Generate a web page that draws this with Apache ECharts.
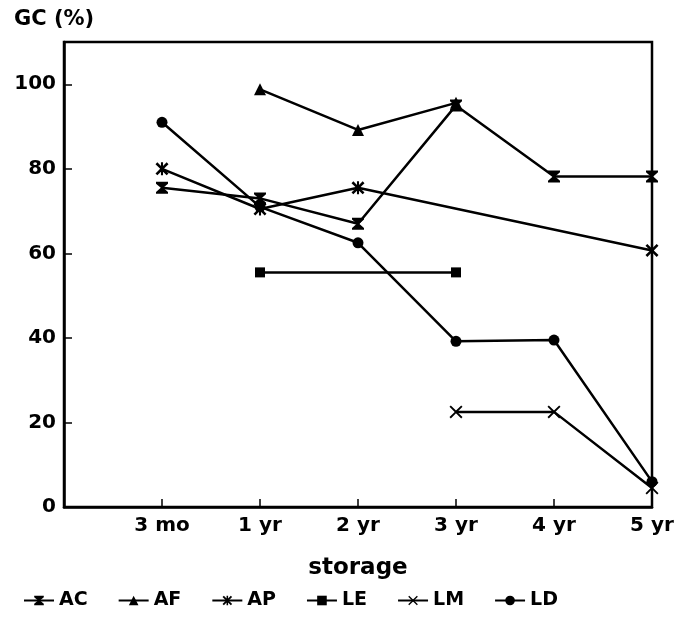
<!DOCTYPE html>
<html>
<head>
<meta charset="utf-8">
<script src="https://cdn.jsdelivr.net/npm/echarts@6/dist/echarts.min.js"></script>
<style>html,body{margin:0;padding:0;background:#fff;}#c{width:682px;height:619px;}</style>
</head>
<body>
<div id="c"></div>
<script>
const categories = ['', '3 mo', '1 yr', '2 yr', '3 yr', '4 yr', '5 yr'];
const AC = [null, 75.5, 73, 67, 95, 78.2, 78.2];
const AF = [null, null, 98.8, 89.2, 95.6, null, null];
const AP = [null, 80, 70.5, 75.5, null, null, 60.7];
const LE = [null, null, 55.5, null, 55.5, null, null];
const LM = [null, null, null, null, 22.5, 22.5, 4.5];
const LD = [null, 91, 71, 62.5, 39.2, 39.5, 6];
const yTicks = [0, 20, 40, 60, 80, 100];

const FONT = 'DejaVu Sans';
const sym = {
  AC: 'path://M0,0 L10,0 L10,1.5 L6,5 L10,8.5 L10,10 L0,10 L0,8.5 L4,5 L0,1.5 Z',
  AF: 'triangle',
  AP: 'path://M0,1.4 L1.4,0 L5,3.6 L8.6,0 L10,1.4 L6.4,5 L10,8.6 L8.6,10 L5,6.4 L1.4,10 L0,8.6 L3.6,5 Z M4.2,0 L5.8,0 L5.8,10 L4.2,10 Z',
  LE: 'rect',
  LM: 'path://M0,1 L1,0 L5,4 L9,0 L10,1 L6,5 L10,9 L9,10 L5,6 L1,10 L0,9 L4,5 Z',
  LD: 'circle'
};
const symSize = {AC: 12, AF: 12, AP: 13, LE: 10, LM: 13, LD: 11};

function mk(name, data) {
  return {
    name: name, type: 'line', data: data, connectNulls: true,
    symbol: sym[name], symbolSize: symSize[name], showSymbol: true,
    lineStyle: {color: '#000', width: 2.5},
    itemStyle: {color: '#000', borderColor: '#000', borderWidth: 0},
    animation: false
  };
}

const chart = echarts.init(document.getElementById('c'));
chart.setOption({
  animation: false,
  backgroundColor: '#fff',
  title: {
    text: 'GC (%)', left: 9, top: 4,
    textStyle: {fontFamily: FONT, fontWeight: 'bold', fontSize: 21, color: '#000'}
  },
  grid: {left: 64, right: 30, top: 42, bottom: 112, show: true, borderColor: '#000', borderWidth: 2.5},
  legend: {
    bottom: 4, left: 18, itemWidth: 30, itemHeight: 12, itemGap: 30,
    data: ['AC', 'AF', 'AP', 'LE', 'LM', 'LD'],
    textStyle: {fontFamily: FONT, fontWeight: 'bold', fontSize: 19, color: '#000'}
  },
  xAxis: {
    type: 'category', data: categories, boundaryGap: false,
    name: 'storage', nameLocation: 'middle', nameGap: 50,
    nameTextStyle: {fontFamily: FONT, fontWeight: 'bold', fontSize: 23, color: '#000'},
    axisLine: {lineStyle: {color: '#000', width: 2.5}},
    axisTick: {inside: true, length: 8, lineStyle: {color: '#000', width: 1.5}},
    axisLabel: {margin: 9, fontFamily: FONT, fontWeight: 'bold', fontSize: 20, color: '#000', interval: 0},
    splitLine: {show: false}
  },
  yAxis: {
    type: 'value', min: 0, max: 110, interval: 20,
    axisLine: {show: true, lineStyle: {color: '#000', width: 2.5}},
    axisTick: {show: true, inside: true, length: 8, lineStyle: {color: '#000', width: 1.5}},
    axisLabel: {
      margin: 8, fontFamily: FONT, fontWeight: 'bold', fontSize: 20, color: '#000',
      formatter: v => yTicks.indexOf(v) >= 0 ? String(v) : ''
    },
    splitLine: {show: false}
  },
  series: [mk('AC', AC), mk('AF', AF), mk('AP', AP), mk('LE', LE), mk('LM', LM), mk('LD', LD)]
});
</script>
</body>
</html>
